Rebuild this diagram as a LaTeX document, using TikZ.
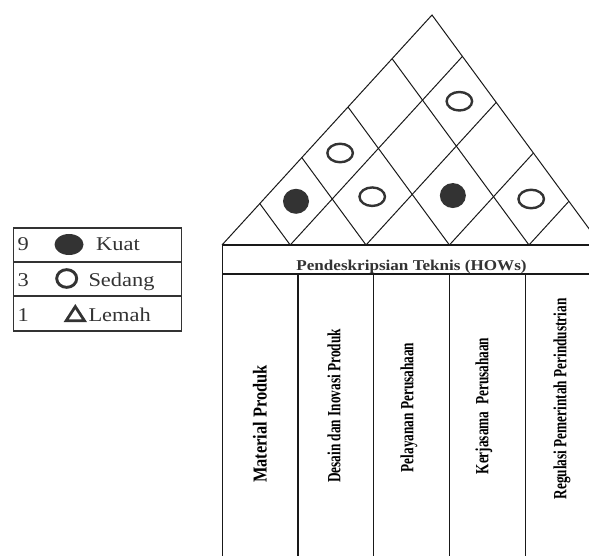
\documentclass[tikz,border=0pt]{standalone}
\usepackage{fontspec}
\setmainfont{Liberation Serif}
\usetikzlibrary{calc,shapes.geometric}
\definecolor{ink}{HTML}{333333}

\begin{document}
\begin{tikzpicture}[x=1pt, y=-1pt,
    roof/.style={draw=black!90, line width=1pt},
    tab/.style={draw=black!90, line width=1.4pt},
    leg/.style={draw=ink, line width=1.3pt},
    kuat/.style={ellipse, fill=ink, inner sep=0pt, minimum width=26pt, minimum height=25pt},
    sedang/.style={ellipse, draw=ink, line width=2.4pt, inner sep=0pt, minimum width=25.5pt, minimum height=18.5pt},
    legtxt/.style={inner sep=0pt, text=ink, font=\fontsize{19.5}{20}\selectfont, xscale=1.15},
    headtxt/.style={inner sep=0pt, text=ink, font=\bfseries\fontsize{15}{16}\selectfont, xscale=1.14},
    howtxt/.style={rotate=90, yscale=1.4, inner sep=0pt, font=\bfseries\fontsize{13.3}{14}\selectfont}]
\useasboundingbox (0,0) rectangle (589,556);
\clip (0,0) rectangle (589,556);

% legenda
\draw[leg] (13.5,228) rectangle (181.5,331);
\draw[leg] (13.5,262) -- (181.5,262);
\draw[leg] (13.5,296) -- (181.5,296);
\node[legtxt, anchor=base west] (n9) at (17.5,251) {9};
\node[legtxt, anchor=base west] (n3) at (17.5,286.7) {3};
\node[legtxt, anchor=base west] (n1) at (17.5,321) {1};
\node[kuat, minimum width=29pt, minimum height=21pt] (s9) at (69,244.5) {};
\node[sedang, line width=2.9pt, minimum width=20pt, minimum height=17.7pt] (s3) at (66.7,278.5) {};
\coordinate (s1) at (75.3,313.5);
\draw[ink, line width=2.8pt] ($(s1)+(-9.2,7.3)$) -- ($(s1)+(9.2,7.3)$) -- ($(s1)+(0,-6.9)$) -- cycle;
\node[legtxt, anchor=base west] (k9) at (96,251) {Kuat};
\node[legtxt, anchor=base west] (k3) at (88.3,286.7) {Sedang};
\node[legtxt, anchor=base west] (k1) at (88.3,321) {Lemah};

% atap (korelasi)
\coordinate (L) at (222,245);
\foreach \i/\si in {0/0,1/0.18,2/0.38,3/0.60,4/0.81,5/1}
  \foreach \j/\sj in {0/0,1/0.18,2/0.38,3/0.60,4/0.81,5/1}
    \coordinate (p\i\j) at ($(L)+\si*(210,-230)+\sj*(169,230)$);
\draw[roof] (p00) -- (p50) -- (p55);
\foreach \k in {1,...,4} {
  \draw[roof] (p\k\k) -- (p5\k);
  \draw[roof] (p\k0) -- (p\k\k);
}
\node[kuat] (r12) at ($(p10)!.5!(p21)$) {};
\node[sedang] (r23) at ($(p21)!.5!(p32)$) {};
\node[kuat] (r34) at ($(p32)!.5!(p43)$) {};
\node[sedang] (r45) at ($(p43)!.5!(p54)$) {};
\node[sedang] (r13) at ($(p20)!.5!(p31)$) {};
\node[sedang] (r25) at ($(p41)!.5!(p52)$) {};

% tabel HOWs
\draw[tab] (222,245) -- (601,245);
\draw[tab] (222,274) -- (601,274);
\draw[tab] (222.5,245) -- (222.5,560);
\foreach \x in {297.8,373.6,449.4,525.2}
  \draw[tab] (\x,274) -- (\x,560);
\node[headtxt, anchor=base] (hows) at (411.5,270.7) {Pendeskripsian Teknis (HOWs)};

\node[howtxt, yscale=0.86, font=\bfseries\fontsize{16.4}{17}\selectfont] (h1) at (260,424) {Material Produk};
\node[howtxt] (h2) at (334,406) {Desain dan Inovasi Produk};
\node[howtxt] (h3) at (409,407.5) {Pelayanan Perusahaan};
\node[howtxt] (h4) at (484,406) {Kerjasama\ \ Perusahaan};
\node[howtxt] (h5) at (562,399) {Regulasi Pemerintah Perindustrian};
\end{tikzpicture}
\end{document}
